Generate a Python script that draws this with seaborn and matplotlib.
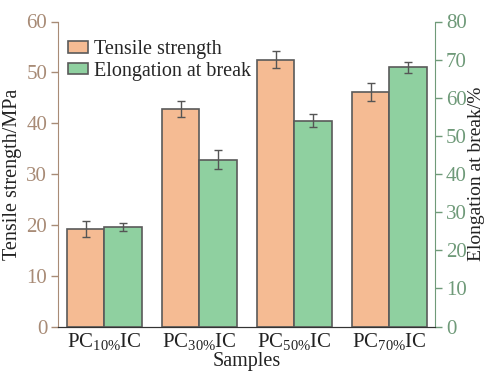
import matplotlib
matplotlib.use("Agg")
import matplotlib.pyplot as plt
import seaborn as sns
import pandas as pd
import numpy as np
from matplotlib.patches import Patch

samples = [r"PC$_{10\%}$IC", r"PC$_{30\%}$IC", r"PC$_{50\%}$IC", r"PC$_{70\%}$IC"]
tensile = [19.2, 42.8, 52.5, 46.1]
tensile_err = [1.5, 1.5, 1.6, 1.8]
elongation = [26.1, 43.8, 54.0, 68.0]
elongation_err = [1.0, 2.6, 1.8, 1.4]
metrics = ["Tensile strength", "Elongation at break"]

c_orange = "#F5BB93"
c_green = "#8FD0A0"
c_left = "#A88B76"
c_right = "#6F9A79"
edge = "#5a5a5a"

sns.set_style("white")
plt.rcParams["font.family"] = ["Liberation Serif", "DejaVu Serif"]
plt.rcParams["mathtext.fontset"] = "custom"
plt.rcParams["mathtext.rm"] = "Liberation Serif"
plt.rcParams["mathtext.it"] = "Liberation Serif:italic"
plt.rcParams["mathtext.bf"] = "Liberation Serif:bold"

df = pd.concat([
    pd.DataFrame({"sample": samples, "value": tensile, "metric": metrics[0]}),
    pd.DataFrame({"sample": samples, "value": elongation, "metric": metrics[1]}),
], ignore_index=True)

fig = plt.figure(figsize=(4.87, 3.72), dpi=100)
ax1 = fig.add_axes([58.3 / 487, 1 - 326.5 / 372, (435 - 58.3) / 487, (326.5 - 21.5) / 372])
ax2 = ax1.twinx()

pal = {metrics[0]: c_orange, metrics[1]: c_green}
for ax in (ax1, ax2):
    sns.barplot(data=df, x="sample", y="value", hue="metric", hue_order=metrics,
                palette=pal, order=samples, ax=ax, width=0.79, edgecolor=edge,
                linewidth=1.2, legend=False, saturation=1, errorbar=None)

# keep only tensile bars on left axis, elongation bars on right axis
ax1.containers[1].remove()
ax2.containers[0].remove()

def add_err(ax, vals, errs):
    pats = sorted([p for p in ax.patches], key=lambda p: p.get_x())
    xs = [p.get_x() + p.get_width() / 2 for p in pats]
    ax.errorbar(xs, vals, yerr=errs, fmt="none", ecolor="#555555", elinewidth=1.0,
                capsize=3, capthick=1.0, zorder=5)

add_err(ax1, tensile, tensile_err)
add_err(ax2, elongation, elongation_err)

ax1.set_xlim(-0.484, 3.48)
ax1.set_ylim(0, 60)
ax2.set_ylim(0, 80)
ax1.set_yticks(np.arange(0, 61, 10))
ax2.set_yticks(np.arange(0, 81, 10))

for ax in (ax1, ax2):
    ax.spines["top"].set_visible(False)
    ax.spines["bottom"].set_color("#333333")
    ax.spines["left"].set_visible(ax is ax1)
    ax.spines["right"].set_visible(ax is ax2)

ax1.spines["left"].set_color(c_left)
ax2.spines["right"].set_color(c_right)
ax1.tick_params(axis="y", colors=c_left, labelsize=15, length=5, width=1, direction="out", left=True, pad=3)
ax2.tick_params(axis="y", colors=c_right, labelsize=15, length=5, width=1, direction="out", right=True, pad=3)
ax1.tick_params(axis="x", labelsize=15, length=0, pad=3, colors="#222222")

ax1.set_xlabel("Samples", fontsize=14.5, color="#222222", labelpad=0.5)
ax1.set_ylabel("Tensile strength/MPa", fontsize=14.5, color="#222222", labelpad=3)
ax2.set_ylabel("Elongation at break/%", fontsize=14, color="#222222", labelpad=0.5)

handles = [Patch(facecolor=c_orange, edgecolor=edge, linewidth=1.2, label=metrics[0]),
           Patch(facecolor=c_green, edgecolor=edge, linewidth=1.2, label=metrics[1])]
ax1.legend(handles=handles, loc="upper left", bbox_to_anchor=(-0.012, 0.985), frameon=False,
           fontsize=14.5, handlelength=1.0, handleheight=0.5, handletextpad=0.3,
           labelspacing=0.12, borderaxespad=0.3)

fig.savefig("out.png", dpi=100)
